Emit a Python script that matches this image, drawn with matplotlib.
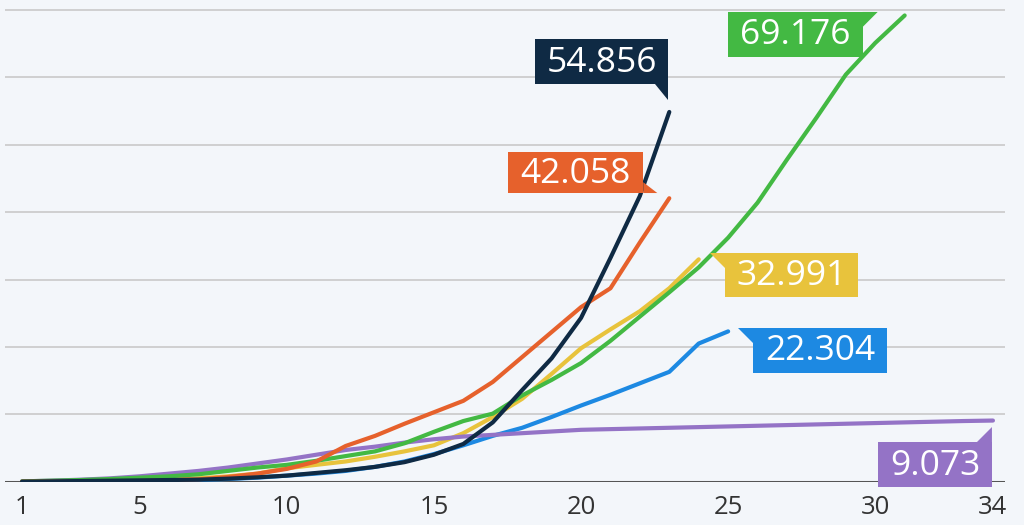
import numpy as np
import matplotlib
matplotlib.use('Agg')
import matplotlib.pyplot as plt
import matplotlib.transforms as mtransforms
from matplotlib.patches import Polygon

plt.rcParams['font.family'] = ['Open Sans', 'DejaVu Sans']

# values, one list per series, index = day - 1
navy = [0, 50, 100, 150, 200, 250, 300, 450, 650, 900, 1300, 1700, 2200, 2900, 4000,
        5600, 8800, 13600, 18300, 24300, 33200, 42400, 54856]
orange = [0, 20, 40, 60, 100, 200, 350, 700, 1200, 1900, 3000, 5300, 6800, 8600, 10300,
          12000, 14800, 18500, 22200, 25900, 28700, 35500, 42058]
green = [50, 150, 250, 400, 600, 800, 1100, 1600, 2100, 2500, 3100, 3800, 4500, 5700, 7400,
         9000, 10100, 12800, 15100, 17600, 20900, 24500, 28100, 31800, 36200, 41400, 47800,
         54000, 60400, 65100, 69176]
yellow = [0, 30, 60, 100, 200, 300, 500, 800, 1200, 2000, 2500, 3000, 3700, 4500, 5400,
          7200, 9600, 12300, 16000, 19800, 22600, 25300, 28700, 32991]
blue = [0, 20, 40, 60, 100, 150, 250, 400, 600, 900, 1200, 1600, 2200, 3000, 4100,
        5400, 6800, 8000, 9600, 11300, 12900, 14600, 16300, 20500, 22304]
purple = [50, 150, 300, 500, 800, 1200, 1600, 2100, 2700, 3300, 4000, 4700, 5200, 5800, 6300,
          6700, 6950, 7200, 7450, 7700, 7800, 7900, 8000, 8100, 8200, 8300, 8400, 8500,
          8600, 8700, 8800, 8900, 9000, 9073]
end_labels = ['54.856', '42.058', '69.176', '32.991', '22.304', '9.073']
xtick_vals = [1, 5, 10, 15, 20, 25, 30, 34]

C_NAVY = '#0f2a44'
C_ORANGE = '#e6612c'
C_GREEN = '#43b943'
C_YELLOW = '#e8c33c'
C_BLUE = '#1d89e2'
C_PURPLE = '#9473c6'
BG = '#f3f6fa'

fig = plt.figure(figsize=(10.24, 5.25), dpi=100, facecolor=BG)
ax = fig.add_axes([5/1024, 43.3/525, 1000/1024, 481.7/525])
ax.set_facecolor(BG)

# draw order: bottom first
series = [
    (blue, C_BLUE, end_labels[4]),
    (yellow, C_YELLOW, end_labels[3]),
    (purple, C_PURPLE, end_labels[5]),
    (green, C_GREEN, end_labels[2]),
    (orange, C_ORANGE, end_labels[1]),
    (navy, C_NAVY, end_labels[0]),
]
for vals, col, _ in series:
    days = np.arange(1, len(vals) + 1)
    ax.plot(days, vals, color=col, lw=3.0, solid_capstyle='round',
            solid_joinstyle='round', zorder=3)

ax.set_xlim(0.422, 34.41)
ax.set_ylim(0, 71470)
ax.set_yticks(np.arange(10000, 70001, 10000))
ax.yaxis.grid(True, color='#c9c9c9', lw=1.2)
ax.set_axisbelow(True)
ax.axhline(0, color='#555555', lw=2.2, zorder=2)
for s in ax.spines.values():
    s.set_visible(False)
ax.tick_params(axis='y', left=False, labelleft=False)
ax.set_xticks(xtick_vals)
ax.set_xticklabels([str(v) for v in xtick_vals])
ax.tick_params(axis='x', bottom=False, labelsize=18.5, labelcolor='#333333', pad=6)

# badge shapes in pixels relative to the line end: box centre, box size, tail
badges = {
    '54.856': ((-67.5, 50), (133, 45), [(-14, 27.5), (-1, 27.5), (-1, 12)]),
    '42.058': ((-93.5, 25.7), (135, 41), [(-26, 16), (-12, 5.2), (-26, 5.2)]),
    '69.176': ((-109.5, -19), (135, 45), [(-42, 3.5), (-27, 3.5), (-42, -11.5)]),
    '32.991': ((92.8, -15.7), (133, 44), [(11.3, 6.3), (26.3, 6.3), (26.3, -8.7)]),
    '22.304': ((92, -19), (134, 45), [(10, 3.5), (25, 3.5), (25, -11.5)]),
    '9.073': ((-58, -44), (114, 45), [(-16, -21.5), (-1, -6.5), (-1, -21.5)]),
}
dpi = fig.dpi
for vals, col, lab in series:
    xe, ye = len(vals), vals[-1]
    trans = fig.dpi_scale_trans + mtransforms.ScaledTranslation(xe, ye, ax.transData)
    (cx, cy), (w, h), tail = badges[lab]
    box = [(cx - w/2, cy - h/2), (cx + w/2, cy - h/2), (cx + w/2, cy + h/2), (cx - w/2, cy + h/2)]
    ax.add_patch(Polygon(np.array(box) / dpi, closed=True, facecolor=col, edgecolor='none',
                         transform=trans, zorder=5, clip_on=False))
    ax.add_patch(Polygon(np.array(tail) / dpi, closed=True, facecolor=col, edgecolor='none',
                         transform=trans, zorder=5, clip_on=False))
    ax.text(cx / dpi, cy / dpi - 0.01, lab, transform=trans, ha='center', va='center',
            color='white', fontsize=25.5, zorder=6)

fig.savefig('out.png', dpi=100, facecolor=BG)
